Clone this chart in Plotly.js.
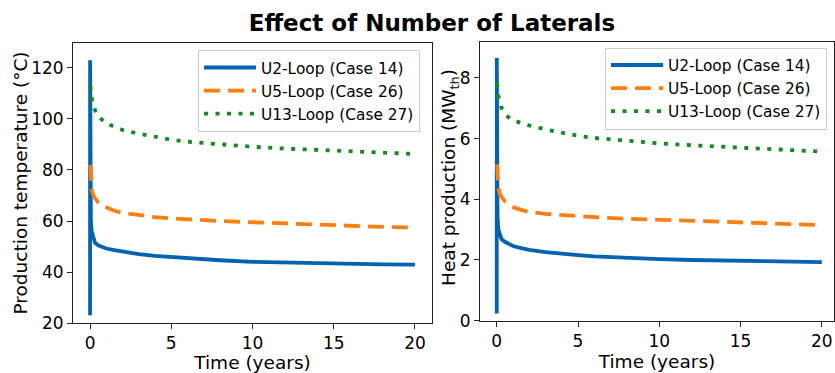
<!DOCTYPE html>
<html>
<head>
<meta charset="utf-8">
<script src="https://cdn.plot.ly/plotly-3.0.1.min.js"></script>
<style>
  html, body { margin: 0; padding: 0; background: #fff; }
  #chart { width: 835px; height: 373px; }
</style>
</head>
<body>
<div id="chart"></div>
<script>
// Series names
const names = ['U2-Loop (Case 14)', 'U5-Loop (Case 26)', 'U13-Loop (Case 27)'];

// Time axes (years) for each configuration
const timeU2  = [0, 0.003, 0.02, 0.05, 0.1, 0.2, 0.3, 0.5, 0.75, 1, 1.5, 2, 3, 4, 5, 6, 7, 8, 10, 12, 14, 16, 18, 20];
const timeU5  = [0.02, 0.05, 0.1, 0.2, 0.35, 0.5, 0.75, 1, 1.5, 2, 3, 4, 5, 6, 8, 10, 12, 14, 16, 18, 20];
const timeU13 = [0.02, 0.1, 0.3, 0.6, 1, 1.5, 2, 3, 4, 5, 6, 8, 10, 12, 14, 16, 18, 20];

// Production temperature (°C)
const tempU2  = [23, 123, 70, 60, 56, 53.5, 51.5, 50.5, 49.8, 49.2, 48.6, 48.0, 47.0, 46.3, 45.8, 45.3, 45.0, 44.6, 44.0, 43.7, 43.4, 43.2, 43.0, 42.9];
const tempU5  = [82, 76, 72.5, 70, 68.3, 67.2, 66, 65.2, 64, 63.2, 62.2, 61.5, 61.0, 60.6, 60.0, 59.5, 59.0, 58.6, 58.1, 57.7, 57.4];
const tempU13 = [113, 108, 103.5, 100.5, 98.2, 96.8, 95.7, 94.2, 92.9, 91.9, 91.1, 90.0, 89.1, 88.4, 87.8, 87.2, 86.7, 86.3];

// Heat production (MWth)
const heatU2  = [0.24, 8.65, 4.2, 3.4, 3.0, 2.82, 2.68, 2.6, 2.52, 2.46, 2.39, 2.33, 2.26, 2.2, 2.16, 2.12, 2.09, 2.07, 2.03, 2.0, 1.98, 1.96, 1.94, 1.93];
const heatU5  = [5.15, 4.7, 4.38, 4.15, 4.02, 3.93, 3.82, 3.74, 3.65, 3.58, 3.52, 3.48, 3.45, 3.41, 3.36, 3.32, 3.29, 3.25, 3.21, 3.18, 3.15];
const heatU13 = [7.82, 7.4, 7.0, 6.75, 6.6, 6.5, 6.43, 6.3, 6.18, 6.09, 6.02, 5.92, 5.84, 5.78, 5.72, 5.66, 5.61, 5.57];

// Axis ticks
const xTicks = [0, 5, 10, 15, 20];
const tempTicks = [20, 40, 60, 80, 100, 120];
const heatTicks = [0, 2, 4, 6, 8];

const colors = ['#0562b1', '#ff7f0e', '#13891f'];
const lineStyles = [
  { color: colors[0], width: 3.8, dash: 'solid' },
  { color: colors[1], width: 3.8, dash: '16px,8px' },
  { color: colors[2], width: 3.8, dash: '4px,7.5px' }
];

const times = [timeU2, timeU5, timeU13];
const temps = [tempU2, tempU5, tempU13];
const heats = [heatU2, heatU5, heatU13];

const traces = [];
for (let i = 0; i < 3; i++) {
  traces.push({
    type: 'scatter', mode: 'lines', name: names[i],
    x: times[i], y: temps[i], xaxis: 'x', yaxis: 'y',
    line: lineStyles[i], legend: 'legend', legendgroup: 'L' + i
  });
}
for (let i = 0; i < 3; i++) {
  traces.push({
    type: 'scatter', mode: 'lines', name: names[i],
    x: times[i], y: heats[i], xaxis: 'x2', yaxis: 'y2',
    line: lineStyles[i], legend: 'legend2', legendgroup: 'R' + i
  });
}

const W = 835, H = 373;
const font = { family: 'DejaVu Sans, sans-serif', color: '#000' };
const titleFont = { family: font.family, size: 18.5, color: '#000' };

function axisBase() {
  return {
    showgrid: false, zeroline: false, showline: true, mirror: true,
    linecolor: '#222', linewidth: 1,
    ticks: 'outside', ticklen: 5, tickwidth: 1, tickcolor: '#222',
    tickfont: { family: font.family, size: 17, color: '#000' },
    automargin: false, fixedrange: true
  };
}

const legendBase = {
  bgcolor: '#fff', bordercolor: '#cccccc', borderwidth: 1,
  font: { family: font.family, size: 15.4, color: '#000' },
  xanchor: 'left', yanchor: 'top', tracegroupgap: 0, itemwidth: 52
};

// Vertical axis titles, placed beside the tick labels
const yTitles = [
  { text: 'Production temperature (°C)', x: 19.5 / W, y: 1 - 183 / 373 },
  { text: 'Heat production (MW<sub>th</sub>)', x: 450 / W, y: 1 - 178 / 373 }
].map(t => ({
  text: t.text, x: t.x, y: t.y, xref: 'paper', yref: 'paper',
  xanchor: 'center', yanchor: 'middle', textangle: -90, showarrow: false,
  font: titleFont
}));

const layout = {
  width: W, height: H,
  margin: { l: 0, r: 0, t: 0, b: 0, pad: 0 },
  paper_bgcolor: '#fff', plot_bgcolor: '#fff',
  font: font,
  showlegend: true,
  title: {
    text: '<b>Effect of Number of Laterals</b>',
    x: 432 / W, xanchor: 'center', y: 1 - 23 / H, yanchor: 'middle',
    font: { family: font.family, size: 23, color: '#000' }
  },
  xaxis: Object.assign(axisBase(), {
    domain: [73 / W, 432 / W], range: [-1.05, 21.05], anchor: 'y',
    tickvals: xTicks,
    title: { text: 'Time (years)', standoff: 3, font: titleFont }
  }),
  yaxis: Object.assign(axisBase(), {
    domain: [1 - 323 / H, 1 - 43 / H], range: [20, 129.8], anchor: 'x',
    tickvals: tempTicks
  }),
  xaxis2: Object.assign(axisBase(), {
    domain: [480 / W, 834 / W], range: [-1.03, 20.75], anchor: 'y2',
    tickvals: xTicks,
    title: { text: 'Time (years)', standoff: 3, font: titleFont }
  }),
  yaxis2: Object.assign(axisBase(), {
    domain: [1 - 320.7 / H, 1 - 41.7 / H], range: [0, 9.19], anchor: 'x2',
    tickvals: heatTicks
  }),
  annotations: yTitles,
  legend: Object.assign({}, legendBase, { x: 198 / W, y: 1 - 50 / H }),
  legend2: Object.assign({}, legendBase, { x: 605 / W, y: 1 - 47.5 / H })
};

Plotly.newPlot('chart', traces, layout, { displayModeBar: false, staticPlot: true });
</script>
</body>
</html>
